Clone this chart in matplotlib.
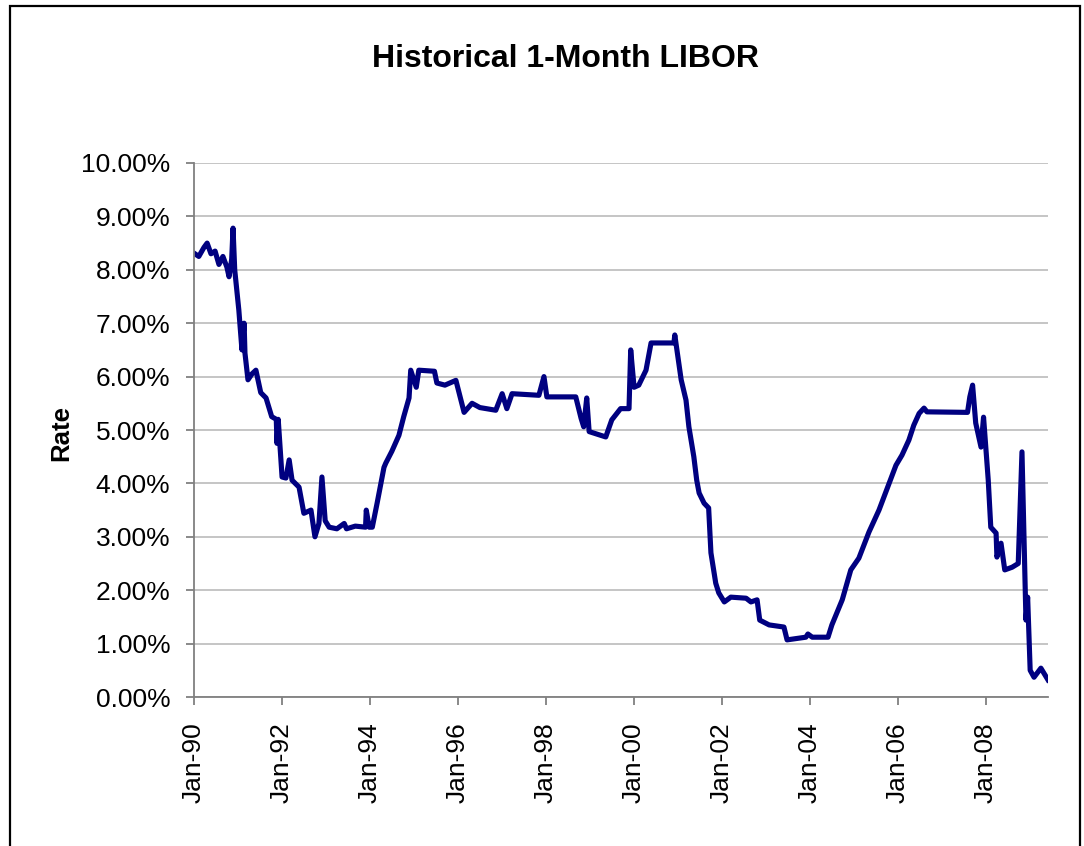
import matplotlib
matplotlib.use("Agg")
from matplotlib import pyplot as plt
from matplotlib.patches import Rectangle
import matplotlib.dates as mdates
from matplotlib.ticker import FuncFormatter, MultipleLocator
import pandas as pd

dates = [
    "1990-01-02", "1990-02-10", "1990-03-25", "1990-04-20", "1990-05-22", "1990-06-25",
    "1990-07-27", "1990-08-29", "1990-10-01", "1990-10-19", "1990-11-10", "1990-11-21",
    "1990-12-05", "1991-01-08", "1991-02-03", "1991-02-21", "1991-02-28", "1991-03-25",
    "1991-04-27", "1991-05-30", "1991-07-09", "1991-08-22", "1991-10-08", "1991-11-15",
    "1991-11-21", "1991-12-01", "1992-01-02", "1992-02-03", "1992-03-01", "1992-03-25",
    "1992-05-22", "1992-07-01", "1992-08-29", "1992-10-01", "1992-11-03", "1992-11-28",
    "1992-12-25", "1993-01-27", "1993-04-01", "1993-06-01", "1993-06-20", "1993-09-01",
    "1993-11-25", "1993-12-01", "1993-12-25", "1994-01-20", "1994-03-01", "1994-04-27",
    "1994-05-12", "1994-07-01", "1994-08-29", "1994-10-08", "1994-11-21", "1994-12-05",
    "1995-01-20", "1995-02-10", "1995-06-20", "1995-07-10", "1995-09-15", "1995-12-15",
    "1996-02-21", "1996-04-27", "1996-07-01", "1996-11-10", "1997-01-02", "1997-02-10",
    "1997-03-25", "1997-11-03", "1997-12-15", "1998-01-08", "1998-09-05", "1998-10-19",
    "1998-11-10", "1998-12-05", "1998-12-25", "1999-05-12", "1999-07-01", "1999-09-12",
    "1999-11-21", "1999-12-05", "2000-01-02", "2000-02-10", "2000-04-10", "2000-05-22",
    "2000-11-28", "2000-12-05", "2001-01-27", "2001-03-08", "2001-04-01", "2001-05-12",
    "2001-06-05", "2001-06-25", "2001-08-05", "2001-09-12", "2001-10-01", "2001-11-10",
    "2001-12-05", "2002-01-20", "2002-03-15", "2002-07-20", "2002-08-29", "2002-10-19",
    "2002-11-10", "2003-01-27", "2003-05-30", "2003-06-25", "2003-11-28", "2003-12-15",
    "2004-01-20", "2004-05-30", "2004-07-01", "2004-09-25", "2004-12-05", "2005-02-10",
    "2005-05-05", "2005-07-27", "2005-10-19", "2005-12-15", "2006-02-03", "2006-04-01",
    "2006-05-12", "2006-06-25", "2006-08-05", "2006-08-29", "2007-08-01", "2007-08-20",
    "2007-09-12", "2007-10-08", "2007-11-21", "2007-12-12", "2008-01-20", "2008-02-10",
    "2008-03-25", "2008-04-01", "2008-05-05", "2008-06-05", "2008-08-05", "2008-09-25",
    "2008-10-26", "2008-11-28", "2008-12-12", "2009-01-02", "2009-02-03", "2009-04-01",
    "2009-05-30",
]
rates = [
    8.31, 8.25, 8.42, 8.50, 8.30, 8.35,
    8.10, 8.25, 8.05, 7.87, 8.20, 8.78,
    8.00, 7.25, 6.50, 7.00, 6.44, 5.94,
    6.05, 6.12, 5.70, 5.60, 5.25, 5.20,
    4.75, 5.20, 4.12, 4.10, 4.44, 4.06,
    3.93, 3.44, 3.50, 3.00, 3.25, 4.12,
    3.30, 3.18, 3.15, 3.25, 3.15, 3.20,
    3.18, 3.50, 3.18, 3.18, 3.63, 4.30,
    4.38, 4.60, 4.90, 5.25, 5.60, 6.12,
    5.80, 6.12, 6.10, 5.88, 5.84, 5.93,
    5.33, 5.50, 5.42, 5.37, 5.68, 5.40,
    5.68, 5.65, 6.00, 5.62, 5.62, 5.22,
    5.06, 5.60, 4.97, 4.87, 5.19, 5.40,
    5.40, 6.50, 5.80, 5.84, 6.12, 6.63,
    6.63, 6.78, 5.94, 5.56, 5.06, 4.50,
    4.06, 3.82, 3.63, 3.54, 2.70, 2.13,
    1.95, 1.78, 1.87, 1.85, 1.78, 1.82,
    1.44, 1.35, 1.31, 1.07, 1.12, 1.18,
    1.12, 1.12, 1.35, 1.82, 2.38, 2.60,
    3.09, 3.50, 4.00, 4.34, 4.53, 4.81,
    5.09, 5.31, 5.41, 5.34, 5.33, 5.62,
    5.84, 5.13, 4.68, 5.24, 4.06, 3.18,
    3.07, 2.62, 2.88, 2.38, 2.43, 2.50,
    4.59, 1.44, 1.87, 0.50, 0.37, 0.54,
    0.32,
]

t = pd.to_datetime(dates)
t0 = pd.Timestamp("1990-01-01")

plt.rcParams['font.family'] = ['Liberation Sans', 'DejaVu Sans']
fig = plt.figure(figsize=(10.84, 8.46), dpi=100)
fig.patch.set_facecolor('white')

# outer chart frame (bottom edge runs off the canvas)
fig.patches.append(Rectangle((10/1084, -0.05), 1070/1084, 1 - 6/846 + 0.05,
                             transform=fig.transFigure, fill=False,
                             edgecolor='black', linewidth=1.6, zorder=10))

ax = fig.add_axes([194/1084, 1 - 697/846, 854/1084, 534/846])
ax.plot(t, rates, color='#000080', lw=3.7, solid_joinstyle='round')

ax.set_xlim(t0, t[-1])
ax.set_ylim(0, 10)
ax.yaxis.set_major_locator(MultipleLocator(1))
ax.yaxis.set_major_formatter(FuncFormatter(lambda v, p: '%.2f%%' % v))
ax.xaxis.set_major_locator(mdates.YearLocator(2, month=1, day=1))
ax.xaxis.set_major_formatter(mdates.DateFormatter('%b-%y'))

ax.grid(axis='y', color='#c0c0c0', lw=1.3)
ax.set_axisbelow(True)
for s in ['top', 'right']:
    ax.spines[s].set_visible(False)
for s in ['left', 'bottom']:
    ax.spines[s].set_color('#808080')
    ax.spines[s].set_linewidth(1.3)
ax.tick_params(axis='both', direction='out', length=6, width=1.3, color='#808080',
               labelsize=19)
ax.tick_params(axis='y', pad=11)
ax.tick_params(axis='x', labelrotation=90, pad=12)

ax.set_ylabel('Rate', fontsize=18.5, fontweight='bold')
ax.yaxis.set_label_coords((73 - 194) / 854, (697 - 433) / 534)
fig.text(565/1084, 1 - 59/846, 'Historical 1-Month LIBOR', ha='center', va='center',
         fontsize=23, fontweight='bold')

fig.savefig('out.png', dpi=100)
